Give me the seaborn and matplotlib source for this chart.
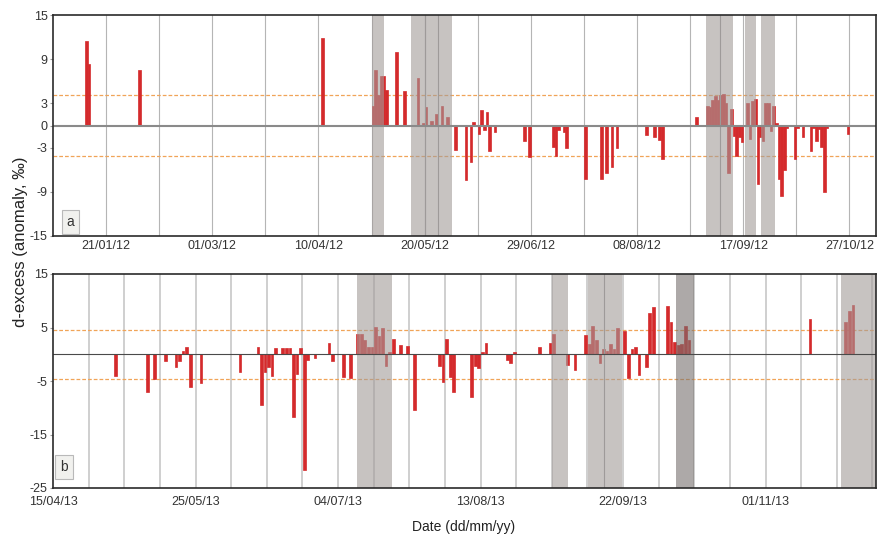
import matplotlib
matplotlib.use("Agg")
import numpy as np
import pandas as pd
import matplotlib.pyplot as plt
import matplotlib.dates as mdates
from matplotlib.ticker import FixedLocator
import seaborn as sns

sns.set_style("white")
plt.rcParams['font.family'] = ['Liberation Sans', 'DejaVu Sans']

# ---------------- data : panel a (2012) ----------------
# day offsets from a_start, value = d-excess anomaly (permil)
a_start = "2012-01-01"
a_span_days = 310
a_day = [12, 13, 32, 101, 120, 121, 122, 123, 124, 125, 129, 132, 137, 139, 140, 142,
         144, 146, 148, 151, 155, 157, 158, 160, 161, 162, 163, 164, 166, 177, 179, 188,
         189, 190, 192, 193, 200, 206, 208, 210, 212, 223, 226, 228, 229, 242, 246, 247,
         248, 249, 250, 251, 252, 253, 254, 255, 256, 257, 258, 259, 261, 262, 263, 264,
         265, 266, 267, 268, 269, 270, 271, 272, 273, 274, 275, 276, 279, 280, 282, 285,
         286, 287, 288, 289, 290, 291, 299]
a_val = [11.5, 8.3, 7.6, 11.9, 2.7, 7.6, 4.2, 6.7, 6.7, 4.8, 10.0, 4.7, 6.5, 0.3, 2.5, 0.6,
         1.5, 2.7, 1.1, -3.3, -7.4, -5.0, 0.5, -1.2, 2.1, -0.6, 1.8, -3.4, -0.9, -2.1, -4.3, -2.9,
         -4.2, -0.6, -0.9, -3.1, -7.2, -7.3, -6.4, -5.6, -3.0, -1.3, -1.5, -2.0, -4.6, 1.2, 2.7, 2.5,
         3.4, 4.0, 3.4, 4.2, 4.3, 3.0, -6.4, 2.2, -1.4, -4.1, -1.6, -2.3, 3.0, -1.9, 3.3, 3.6,
         -8.0, -1.5, -2.1, 3.0, 3.1, -0.7, 2.7, 0.3, -7.2, -9.6, -6.1, -0.3, -4.6, -0.3, -1.5, -3.4,
         -0.3, -2.1, -0.5, -2.9, -9.0, -0.3, -1.2]
a_shade_start = [120.0, 135.0, 140.0, 145.0, 246.0, 251.3, 260.8, 266.8]
a_shade_end = [124.7, 140.0, 145.0, 150.2, 251.3, 256.0, 264.7, 271.8]
a_shade_dark = [False] * 8
a_threshold = 4.2
a_yticks = [-15, -9, -3, 0, 3, 9, 15]
a_ylim = (-15, 15)
a_first_label = "2012-01-21"

# ---------------- data : panel b (2013) ----------------
b_start = "2013-04-15"
b_span_days = 231
b_day = [17, 26, 28, 31, 34, 35, 36, 37, 38, 41, 52, 57, 58, 59, 60, 61, 62, 64, 65, 66,
         67, 68, 69, 70, 71, 73, 77, 78, 81, 83, 85, 86, 87, 88, 89, 90, 91, 92, 93, 94,
         95, 97, 99, 101, 108, 109, 110, 111, 112, 117, 118, 119, 120, 121, 127, 128, 129, 136,
         139, 140, 144, 146, 149, 150, 151, 152, 153, 154, 155, 156, 157, 158, 160, 161, 162, 163,
         164, 166, 167, 168, 172, 173, 174, 175, 176, 177, 178, 212, 222, 223, 224]
b_val = [-4.1, -7.0, -4.6, -1.3, -2.3, -1.2, 0.65, 1.4, -6.1, -5.3, -3.4, 1.3, -9.4, -3.4, -2.3, -4.0, 1.2, 1.2, 1.2, 1.2,
         -11.8, -3.6, 1.2, -21.6, -1.0, -0.7, 2.1, -1.3, -4.3, -4.5, 3.8, 3.8, 2.6, 1.3, 1.3, 5.1, 3.5, 4.9, -2.2, 0.5,
         2.8, 1.7, 1.6, -10.4, -2.2, -5.2, 2.8, -4.2, -7.0, -7.9, -2.2, -2.6, 0.45, 2.1, -1.0, -1.6, 0.4, 1.3,
         2.1, 3.8, -2.0, -3.0, 3.6, 2.0, 5.3, 2.7, -1.6, 0.9, 0.7, 2.0, 0.9, 5.0, 4.4, -4.5, 0.9, 1.3,
         -3.8, -2.4, 7.8, 8.9, 9.1, 6.1, 2.3, 1.8, 2.0, 5.2, 2.7, 6.6, 6.0, 8.0, 9.2]
b_shade_start = [85.4, 140.0, 150.1, 154.7, 175.0, 221.1]
b_shade_end = [95.1, 144.5, 154.7, 159.6, 179.9, 231.0]
b_shade_dark = [False, False, False, False, True, False]
b_threshold = 4.6
b_yticks = [-25, -15, -5, 5, 15]
b_ylim = (-25, 15)
b_first_label = "2013-04-15"

# ---------------- styling ----------------
BAR = "#d42a2c"
SHADE = "#a29b99"
SHADE_DARK = "#77716f"
DASH = "#f0a458"
TXT = "#333333"


def day_to_num(start, days, hour=0):
    ts = pd.Timestamp(start) + pd.to_timedelta(np.asarray(days, dtype=float), unit="D") \
        + pd.Timedelta(hours=hour)
    return mdates.date2num(ts.to_pydatetime())


def draw_panel(ax, start, span, days, vals, s0, s1, sdark, thr, yticks, ylim,
               grid_first, label_first, grid_step, label_step, bar_w, grid_col, grid_lw,
               zero_col, zero_lw, letter, letter_xy, xpad):
    x0 = mdates.date2num(pd.Timestamp(start).to_pydatetime())
    x1 = x0 + span
    end_ts = pd.Timestamp(start) + pd.Timedelta(days=span)
    # gridlines
    g = pd.Timestamp(grid_first)
    while g <= end_ts:
        v = mdates.date2num(g.to_pydatetime())
        if x0 < v < x1:
            ax.axvline(v, color=grid_col, lw=grid_lw, zorder=0.5)
        g += pd.Timedelta(days=grid_step)
    # bars (each sample drawn at midday of its date)
    df = pd.DataFrame({"date": day_to_num(start, days, hour=12), "value": vals})
    sns.barplot(data=df, x="date", y="value", native_scale=True, orient="x",
                color=BAR, saturation=1, width=bar_w, errorbar=None,
                linewidth=0.5, edgecolor=BAR, ax=ax, zorder=2)
    # thresholds
    for t in (thr, -thr):
        ax.axhline(t, color=DASH, lw=0.9, ls=(0, (3, 1.6)), zorder=1.5)
    # shaded periods
    prev_end = None
    for a, b, dk in zip(s0, s1, sdark):
        xa = x0 + a
        xb = x0 + b
        ax.axvspan(xa, xb, color=SHADE_DARK if dk else SHADE, alpha=0.6, lw=0, zorder=3)
        if prev_end is not None and abs(prev_end - a) < 1e-6:
            ax.axvline(xa, color="#9a9a9a", lw=0.8, zorder=2.9)
        prev_end = b
    ax.axhline(0, color=zero_col, lw=zero_lw, zorder=4)
    ax.set_xlim(x0, x1)
    ax.set_ylim(*ylim)
    ax.set_yticks(yticks)
    ax.set_yticklabels([str(v) for v in yticks])
    # date labels
    lab = []
    d = pd.Timestamp(label_first)
    while d <= end_ts:
        lab.append(mdates.date2num(d.to_pydatetime()))
        d += pd.Timedelta(days=label_step)
    ax.xaxis.set_major_locator(FixedLocator(lab))
    ax.xaxis.set_major_formatter(mdates.DateFormatter("%d/%m/%y"))
    ax.set_xlabel("")
    ax.set_ylabel("")
    ax.tick_params(axis="x", length=0, pad=xpad, labelsize=9, labelcolor=TXT)
    ax.tick_params(axis="y", length=2.5, width=0.8, color="#999999", pad=1.5,
                   labelsize=9, labelcolor=TXT, left=True)
    for sp in ax.spines.values():
        sp.set_color("#2a2a2a")
        sp.set_linewidth(1.2)
        sp.set_zorder(6)
    ax.text(letter_xy[0], letter_xy[1], letter, transform=ax.transAxes,
            fontsize=10, color=TXT, ha="center", va="center", zorder=7,
            bbox=dict(boxstyle="square,pad=0.35", fc="#f1f1ee", ec="#b9b9b9", lw=0.8))


fig = plt.figure(figsize=(8.77, 5.37), dpi=100)
ax_a = fig.add_axes([53 / 877, 1 - 236 / 537, 823 / 877, 221 / 537])
ax_b = fig.add_axes([53 / 877, 1 - 488 / 537, 823 / 877, 214 / 537])

draw_panel(ax_a, a_start, a_span_days, a_day, a_val, a_shade_start, a_shade_end,
           a_shade_dark, a_threshold, a_yticks, a_ylim, "2012-01-21", a_first_label,
           grid_step=20, label_step=40, bar_w=1.0, grid_col="#b5b5b5", grid_lw=0.8,
           zero_col="#8a8a8a", zero_lw=1.5, letter="a", letter_xy=(0.021, 0.062), xpad=3)
draw_panel(ax_b, b_start, b_span_days, b_day, b_val, b_shade_start, b_shade_end,
           b_shade_dark, b_threshold, b_yticks, b_ylim, "2013-04-25", b_first_label,
           grid_step=10, label_step=40, bar_w=0.75, grid_col="#cccccc", grid_lw=1.3,
           zero_col="#4a4a4a", zero_lw=0.8, letter="b", letter_xy=(0.0135, 0.097), xpad=6)

fig.text(21 / 877, 1 - 241.5 / 537, "d-excess (anomaly, \u2030)", rotation=90, ha="center",
         va="center", fontsize=12, color="#222222")
fig.text(463.5 / 877, 1 - 527 / 537, "Date (dd/mm/yy)", ha="center", va="center",
         fontsize=10, color="#222222")

fig.savefig("out.png", dpi=100)
